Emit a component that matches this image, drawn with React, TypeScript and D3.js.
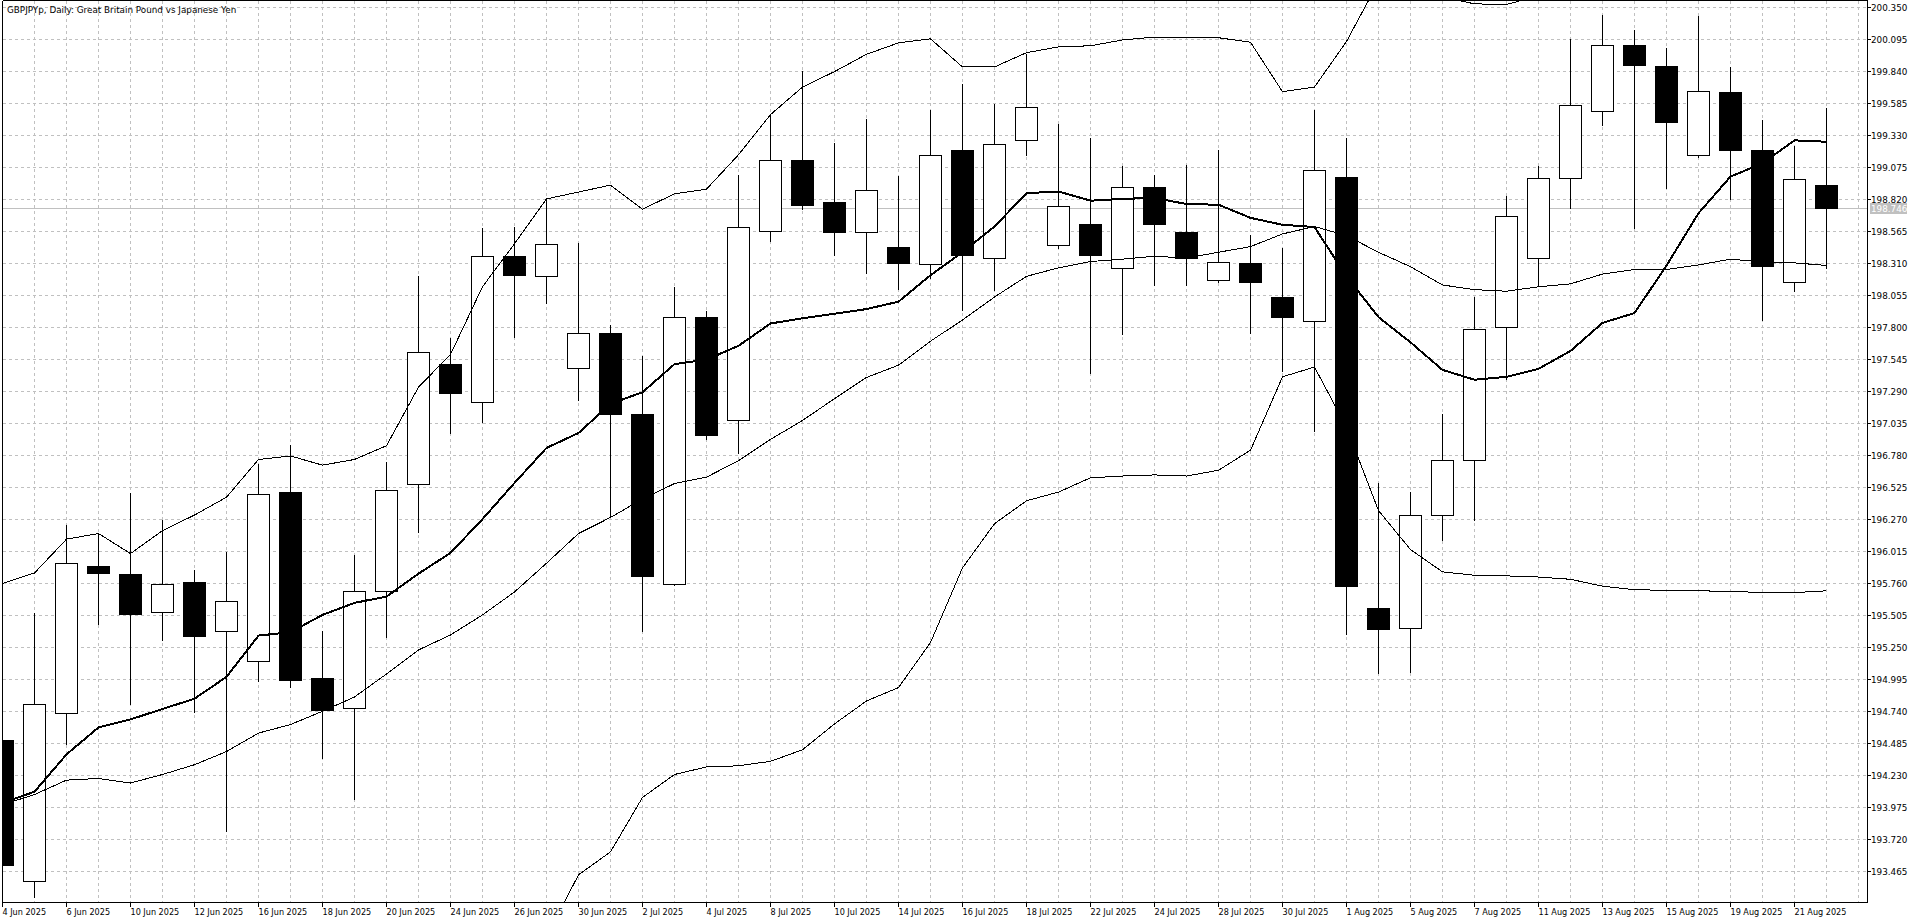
import React from 'react';
import * as d3 from 'd3';

const title = 'GBPJPYp, Daily:  Great Britain Pound vs Japanese Yen';

const dates = [
  '4 Jun 2025', '5 Jun 2025', '6 Jun 2025', '9 Jun 2025', '10 Jun 2025', '11 Jun 2025', '12 Jun 2025', '13 Jun 2025',
  '16 Jun 2025', '17 Jun 2025', '18 Jun 2025', '19 Jun 2025', '20 Jun 2025', '23 Jun 2025', '24 Jun 2025', '25 Jun 2025',
  '26 Jun 2025', '27 Jun 2025', '30 Jun 2025', '1 Jul 2025', '2 Jul 2025', '3 Jul 2025', '4 Jul 2025', '7 Jul 2025',
  '8 Jul 2025', '9 Jul 2025', '10 Jul 2025', '11 Jul 2025', '14 Jul 2025', '15 Jul 2025', '16 Jul 2025', '17 Jul 2025',
  '18 Jul 2025', '21 Jul 2025', '22 Jul 2025', '23 Jul 2025', '24 Jul 2025', '25 Jul 2025', '28 Jul 2025', '29 Jul 2025',
  '30 Jul 2025', '31 Jul 2025', '1 Aug 2025', '4 Aug 2025', '5 Aug 2025', '6 Aug 2025', '7 Aug 2025', '8 Aug 2025',
  '11 Aug 2025', '12 Aug 2025', '13 Aug 2025', '14 Aug 2025', '15 Aug 2025', '18 Aug 2025', '19 Aug 2025', '20 Aug 2025',
  '21 Aug 2025', '22 Aug 2025',
];

const opens = [
  194.507, 193.386, 194.722, 195.897, 195.833, 195.527, 195.769, 195.376, 195.133, 196.483,
  195.005, 194.758, 195.691, 196.551, 197.507, 197.201, 198.363, 198.203, 197.471, 197.754,
  197.105, 195.751, 197.882, 197.059, 198.568, 199.131, 198.797, 198.559, 198.436, 198.299,
  199.213, 198.349, 199.287, 198.449, 198.623, 198.271, 198.916, 198.559, 198.170, 198.312,
  198.042, 197.846, 198.998, 195.559, 195.399, 196.300, 196.739, 197.800, 198.349, 198.985,
  199.524, 200.046, 199.877, 199.168, 199.675, 199.209, 198.157, 198.931,
];
const highs = [
  194.550, 195.522, 196.217, 196.153, 196.474, 196.263, 195.865, 196.002, 196.711, 196.862,
  195.376, 195.980, 196.721, 198.207, 197.709, 198.587, 198.600, 198.820, 198.468, 197.814,
  197.571, 198.120, 197.923, 199.008, 199.492, 199.840, 199.264, 199.456, 199.003, 199.529,
  199.739, 199.575, 199.973, 199.415, 199.305, 199.081, 199.012, 199.090, 199.213, 198.532,
  198.431, 199.529, 199.309, 196.556, 196.483, 197.105, 198.038, 198.843, 199.081, 200.096,
  200.288, 200.169, 200.023, 200.279, 199.872, 199.447, 199.241, 199.542,
];
const lows = [
  193.450, 193.256, 194.475, 195.435, 194.790, 195.303, 194.731, 193.784, 194.978, 194.932,
  194.360, 194.040, 195.330, 196.167, 196.954, 197.045, 197.718, 197.992, 197.219, 196.295,
  195.376, 195.742, 196.908, 196.794, 198.482, 198.738, 198.372, 198.230, 198.102, 198.189,
  197.937, 198.097, 199.172, 198.431, 197.429, 197.745, 198.134, 198.134, 198.161, 197.754,
  197.452, 196.968, 195.353, 195.042, 195.046, 196.099, 196.259, 197.388, 198.129, 198.751,
  199.410, 198.587, 198.907, 199.158, 198.820, 197.855, 198.088, 198.270,
];
const closes = [
  193.514, 194.790, 195.916, 195.842, 195.513, 195.751, 195.335, 195.618, 196.469, 194.987,
  194.749, 195.691, 196.496, 197.603, 197.274, 198.363, 198.212, 198.459, 197.750, 197.105,
  195.815, 197.882, 196.940, 198.600, 199.131, 198.774, 198.559, 198.889, 198.308, 199.172,
  198.376, 199.259, 199.552, 198.761, 198.372, 198.916, 198.619, 198.349, 198.321, 198.157,
  197.878, 199.053, 195.733, 195.394, 196.300, 196.739, 197.786, 198.683, 198.989, 199.570,
  200.046, 199.886, 199.433, 199.680, 199.209, 198.285, 198.976, 198.746,
];

// thick moving average
const maLine = [
  194.004, 194.095, 194.392, 194.607, 194.671, 194.754, 194.836, 195.010, 195.339, 195.367,
  195.504, 195.600, 195.650, 195.833, 195.998, 196.268, 196.556, 196.835, 196.954, 197.187,
  197.279, 197.503, 197.539, 197.649, 197.827, 197.869, 197.905, 197.942, 198.001, 198.212,
  198.395, 198.600, 198.866, 198.879, 198.806, 198.820, 198.829, 198.779, 198.774, 198.669,
  198.614, 198.596, 198.203, 197.878, 197.677, 197.457, 197.379, 197.402, 197.466, 197.608,
  197.832, 197.910, 198.289, 198.706, 198.998, 199.104, 199.287, 199.276,
];
// Bollinger bands
const bandUpper = [
  195.755, 195.838, 196.108, 196.153, 195.993, 196.176, 196.300, 196.442, 196.743, 196.771,
  196.698, 196.743, 196.853, 197.320, 197.580, 198.120, 198.463, 198.820, 198.875, 198.930,
  198.738, 198.861, 198.898, 199.172, 199.492, 199.712, 199.835, 199.973, 200.064, 200.096,
  199.872, 199.872, 199.986, 200.032, 200.041, 200.087, 200.110, 200.105, 200.105, 200.069,
  199.675, 199.712, 200.075, 200.550, 200.500, 200.430, 200.375, 200.370, 200.440, 200.600,
  200.800, 200.900, 201.000, 201.000, 200.950, 200.900, 200.900, 200.880,
];
const bandMiddle = [
  193.991, 194.072, 194.187, 194.200, 194.164, 194.232, 194.310, 194.415, 194.562, 194.630,
  194.736, 194.850, 195.033, 195.225, 195.344, 195.504, 195.687, 195.916, 196.153, 196.281,
  196.428, 196.551, 196.602, 196.734, 196.903, 197.054, 197.228, 197.397, 197.495, 197.686,
  197.855, 198.038, 198.203, 198.271, 198.321, 198.340, 198.363, 198.349, 198.395, 198.440,
  198.541, 198.600, 198.527, 198.395, 198.280, 198.134, 198.097, 198.084, 198.120, 198.143,
  198.221, 198.257, 198.257, 198.294, 198.340, 198.317, 198.310, 198.290,
];
const bandLower: (number | null)[] = [
  null, null, null, null, null, null, null, null, null, null,
  null, null, null, null, null, null, null, 192.940, 193.432, 193.615,
  194.049, 194.232, 194.292, 194.301, 194.337, 194.429, 194.635, 194.818, 194.925, 195.284,
  195.879, 196.231, 196.414, 196.483, 196.597, 196.611, 196.620, 196.611, 196.657, 196.817,
  197.402, 197.480, 197.000, 196.336, 196.025, 195.847, 195.820, 195.815, 195.806, 195.788,
  195.733, 195.705, 195.700, 195.696, 195.692, 195.682, 195.682, 195.696,
];

const priceTicks = [
  '200.350', '200.095', '199.840', '199.585', '199.330', '199.075', '198.820', '198.565', '198.310',
  '198.055', '197.800', '197.545', '197.290', '197.035', '196.780', '196.525', '196.270', '196.015',
  '195.760', '195.505', '195.250', '194.995', '194.740', '194.485', '194.230', '193.975', '193.720', '193.465',
];
const lastPrice = '198.746';

const FONT = '"DejaVu Sans", Tahoma, sans-serif';
const GRID = '#c0c0c0';

export default function App() {
  const W = 1920;
  const H = 923;
  const L = 2.5, R = 1867.5, T = 0.5, B = 902.5;

  // bar index -> pixel column (bar spacing 32px)
  const x = d3.scaleLinear().domain([0, 57]).range([2, 1826]);
  const y = d3.scaleLinear().domain([193.465, 200.35]).range([870.7, 7]);
  const py = (v: number) => Math.round(y(v));

  const n = dates.length;
  const gridCols = d3.range(1, Math.floor((R - 2) / 32) + 1);

  const line = d3
    .line<number | null>()
    .defined((d) => d !== null)
    .x((_, i) => x(i) + 0.5)
    .y((d) => y(d as number));

  const lastY = py(parseFloat(lastPrice)) + 0.5;

  return (
    <svg
      width={W}
      height={H}
      style={{ position: 'absolute', left: 0, top: 0, display: 'block', background: '#fff' }}
      fontFamily={FONT}
    >
      <defs>
        <clipPath id="plot">
          <rect x={3} y={1} width={R - 3.5} height={B - 1.5} />
        </clipPath>
      </defs>
      <rect x={0} y={0} width={W} height={H} fill="#fff" />

      {/* grid */}
      <g stroke={GRID} strokeWidth={1} strokeDasharray="3,3" shapeRendering="crispEdges">
        {gridCols.map((i) => (
          <line key={'gv' + i} x1={x(i) + 0.5} x2={x(i) + 0.5} y1={T} y2={B} />
        ))}
        {priceTicks.map((t) => (
          <line key={'gh' + t} x1={L} x2={R} y1={py(parseFloat(t)) + 0.5} y2={py(parseFloat(t)) + 0.5} />
        ))}
      </g>

      {/* current price line */}
      <line x1={L} x2={R} y1={lastY} y2={lastY} stroke={GRID} strokeWidth={1} shapeRendering="crispEdges" />

      <g clipPath="url(#plot)" shapeRendering="crispEdges">
        {/* candles */}
        {d3.range(n).map((i) => {
          const o = opens[i], c = closes[i], h = highs[i], l = lows[i];
          const cx = x(i);
          const top = py(Math.max(o, c));
          const bot = py(Math.min(o, c));
          const bear = c < o;
          return (
            <g key={'c' + i}>
              <line x1={cx + 0.5} x2={cx + 0.5} y1={py(h)} y2={py(l) + 1} stroke="#000" strokeWidth={1} />
              {bear ? (
                <rect x={cx - 11} y={top} width={23} height={Math.max(1, bot - top + 1)} fill="#000" />
              ) : (
                <rect x={cx - 10.5} y={top + 0.5} width={22} height={Math.max(0, bot - top)} fill="#fff" stroke="#000" strokeWidth={1} />
              )}
            </g>
          );
        })}

        {/* indicator lines */}
        <path d={line(bandUpper) || ''} fill="none" stroke="#000" strokeWidth={1} />
        <path d={line(bandMiddle) || ''} fill="none" stroke="#000" strokeWidth={1} />
        <path d={line(bandLower) || ''} fill="none" stroke="#000" strokeWidth={1} />
        <path d={line(maLine) || ''} fill="none" stroke="#000" strokeWidth={2} />
      </g>

      {/* frame */}
      <g stroke="#000" strokeWidth={1} shapeRendering="crispEdges">
        <line x1={L} x2={L} y1={T} y2={B} />
        <line x1={R} x2={R} y1={T} y2={B} />
        <line x1={L} x2={R} y1={T} y2={T} />
        <line x1={L} x2={R} y1={B} y2={B} />
      </g>

      {/* title */}
      <text x={7} y={13.3} fontSize={8.8} fill="#000">{title}</text>

      {/* price axis */}
      {priceTicks.map((t) => {
        const ty = py(parseFloat(t)) + 0.5;
        return (
          <g key={'pt' + t}>
            <line x1={R} x2={R + 3} y1={ty} y2={ty} stroke="#000" shapeRendering="crispEdges" />
            <text x={1871} y={ty} dy="0.36em" fontSize={8.8} fill="#000">{t}</text>
          </g>
        );
      })}
      <rect x={1870} y={lastY - 5.5} width={37} height={11} fill={GRID} />
      <text x={1871} y={lastY} dy="0.36em" fontSize={8.8} fill="#fff">{lastPrice}</text>

      {/* date axis */}
      {dates.map((d, i) =>
        i % 2 === 0 ? (
          <g key={'dt' + i}>
            <line x1={x(i) + 0.5} x2={x(i) + 0.5} y1={B} y2={B + 4.5} stroke="#000" shapeRendering="crispEdges" />
            <text x={x(i) + 0.5} y={914.5} fontSize={8.1} fill="#000">{d}</text>
          </g>
        ) : null
      )}
    </svg>
  );
}
